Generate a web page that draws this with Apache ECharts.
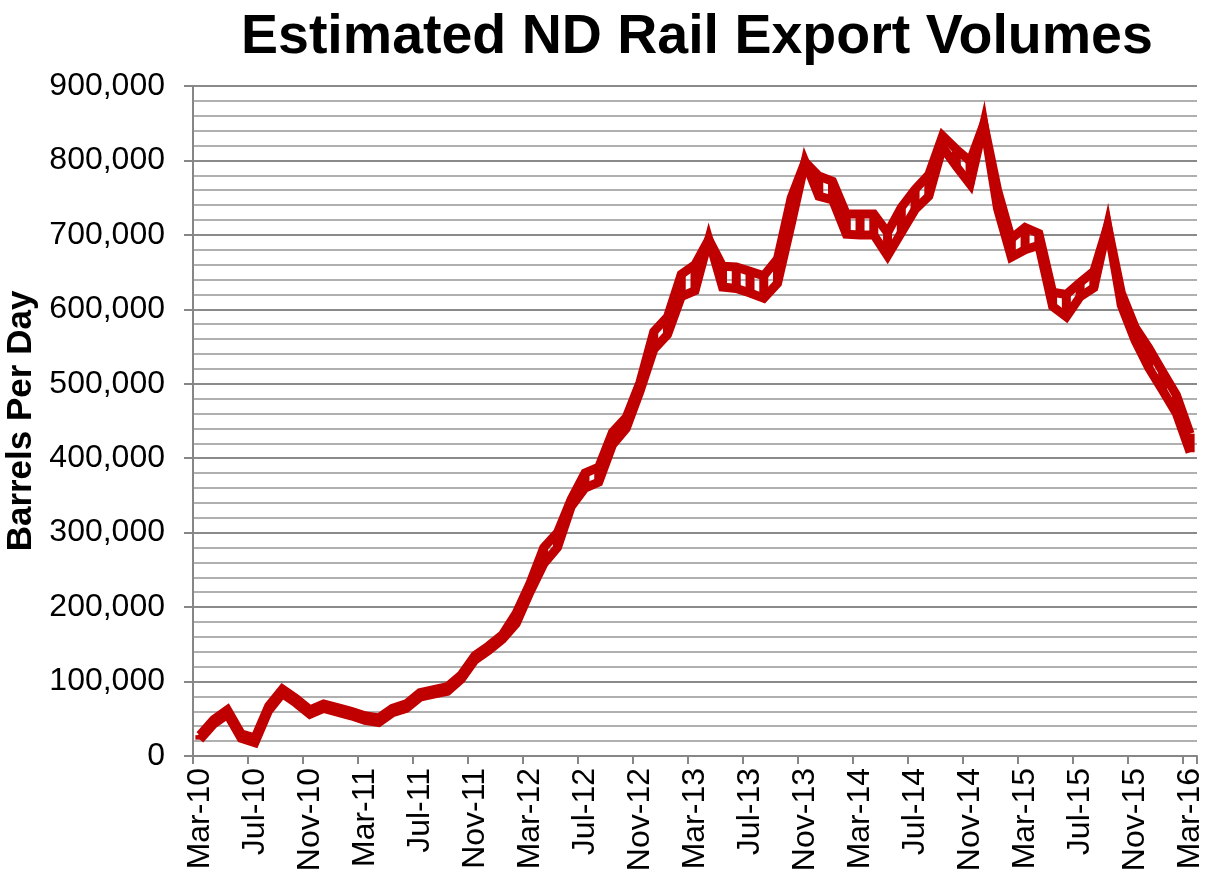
<!DOCTYPE html>
<html>
<head>
<meta charset="utf-8">
<title>Estimated ND Rail Export Volumes</title>
<script src="https://cdn.jsdelivr.net/npm/echarts@6/dist/echarts.min.js"></script>
<style>
  html, body { margin: 0; padding: 0; background: #fff; }
  #main { width: 1209px; height: 884px; }
</style>
</head>
<body>
<div id="main"></div>
<script>
// months on the category axis
var months = [
  'Mar-10', 'Apr-10', 'May-10', 'Jun-10', 'Jul-10', 'Aug-10', 'Sep-10', 'Oct-10', 'Nov-10', 'Dec-10',
  'Jan-11', 'Feb-11', 'Mar-11', 'Apr-11', 'May-11', 'Jun-11', 'Jul-11', 'Aug-11', 'Sep-11', 'Oct-11', 'Nov-11', 'Dec-11',
  'Jan-12', 'Feb-12', 'Mar-12', 'Apr-12', 'May-12', 'Jun-12', 'Jul-12', 'Aug-12', 'Sep-12', 'Oct-12', 'Nov-12', 'Dec-12',
  'Jan-13', 'Feb-13', 'Mar-13', 'Apr-13', 'May-13', 'Jun-13', 'Jul-13', 'Aug-13', 'Sep-13', 'Oct-13', 'Nov-13', 'Dec-13',
  'Jan-14', 'Feb-14', 'Mar-14', 'Apr-14', 'May-14', 'Jun-14', 'Jul-14', 'Aug-14', 'Sep-14', 'Oct-14', 'Nov-14', 'Dec-14',
  'Jan-15', 'Feb-15', 'Mar-15', 'Apr-15', 'May-15', 'Jun-15', 'Jul-15', 'Aug-15', 'Sep-15', 'Oct-15', 'Nov-15', 'Dec-15',
  'Jan-16', 'Feb-16', 'Mar-16'
]

// upper and lower estimate, barrels per day
var upper = [
  28000, 49000, 62000, 30000, 24000, 67000, 90000, 77000, 62000, 70000,
  65000, 60000, 54000, 51000, 64000, 70000, 85000, 89000, 93000, 109000, 135000, 148000,
  163000, 192000, 232000, 280000, 300000, 345000, 380000, 388000, 435000, 455000, 502000, 570000,
  590000, 647000, 660000, 694000, 658000, 657000, 651000, 645000, 668000, 750000, 798000, 779000,
  772000, 728000, 728000, 728000, 703000, 737000, 761000, 781000, 833000, 815000, 799000, 849000,
  760000, 695000, 710000, 702000, 623000, 620000, 636000, 651000, 712000, 622000, 576000, 548000,
  516000, 485000, 433000
]
var lower = [
  22000, 43000, 56000, 24000, 18000, 61000, 84000, 71000, 56000, 64000,
  59000, 54000, 48000, 45000, 58000, 64000, 79000, 83000, 87000, 103000, 129000, 142000,
  157000, 178000, 220000, 258000, 280000, 335000, 360000, 368000, 418000, 440000, 490000, 546000,
  566000, 617000, 625000, 694000, 630000, 628000, 622000, 615000, 635000, 715000, 798000, 752000,
  747000, 701000, 700000, 700000, 672000, 703000, 734000, 752000, 818000, 792000, 768000, 849000,
  735000, 670000, 680000, 686000, 604000, 590000, 617000, 629000, 712000, 605000, 558000, 521000,
  491000, 460000, 408000
]

var RED = '#C00000'
var FONT = '"Liberation Sans", Arial, sans-serif'

var chart = echarts.init(document.getElementById('main'))
chart.setOption(getOptions())

function getOptions () {
  // high-low connectors between the two lines
  var links = months.map(function (m, i) {
    return [i, upper[i], lower[i]]
  })
  var lineStyle = { color: RED, width: 9, join: 'miter', cap: 'butt' }

  return {
    animation: false,
    backgroundColor: '#fff',
    title: {
      text: 'Estimated ND Rail Export Volumes',
      left: 236,
      top: 5,
      textStyle: { fontFamily: FONT, fontSize: 55.5, fontWeight: 'bold', color: '#000' }
    },
    grid: {
      left: 193,
      right: 12,
      top: 86,
      bottom: 128,
      outerBoundsMode: 'none'
    },
    xAxis: {
      type: 'category',
      data: months,
      boundaryGap: true,
      axisLine: { lineStyle: { color: '#868686', width: 2 } },
      axisTick: {
        show: true,
        interval: 3,
        alignWithLabel: false,
        length: 8,
        lineStyle: { color: '#868686', width: 2 }
      },
      axisLabel: {
        interval: 3,
        rotate: 90,
        margin: 12,
        fontFamily: FONT,
        fontSize: 32,
        color: '#000'
      },
      splitLine: { show: false }
    },
    yAxis: {
      type: 'value',
      min: 0,
      max: 900000,
      interval: 100000,
      name: 'Barrels Per Day',
      nameLocation: 'middle',
      nameGap: 147,
      nameTextStyle: { fontFamily: FONT, fontSize: 35, fontWeight: 'bold', color: '#000' },
      axisLine: { show: true, lineStyle: { color: '#868686', width: 2 } },
      axisTick: { show: true, length: 9, lineStyle: { color: '#868686', width: 2 } },
      axisLabel: {
        margin: 28,
        fontFamily: FONT,
        fontSize: 32,
        color: '#000',
        formatter: function (v) {
          return v.toLocaleString('en-US')
        }
      },
      splitLine: { show: true, lineStyle: { color: '#8a8a8a', width: 2 } },
      minorTick: { show: false, splitNumber: 5 },
      minorSplitLine: { show: true, lineStyle: { color: '#b0b0b0', width: 2 } }
    },
    series: [{
      name: 'Lower',
      type: 'line',
      data: lower,
      symbol: 'none',
      lineStyle: lineStyle,
      z: 3
    }, {
      name: 'Upper',
      type: 'line',
      data: upper,
      symbol: 'none',
      lineStyle: lineStyle,
      z: 3
    }, {
      name: 'High-Low',
      type: 'custom',
      data: links,
      encode: { x: 0, y: [1, 2] },
      z: 3,
      renderItem: function (params, api) {
        var top = api.coord([api.value(0), api.value(1)])
        var bot = api.coord([api.value(0), api.value(2)])
        return {
          type: 'line',
          shape: { x1: top[0], y1: top[1], x2: bot[0], y2: bot[1] },
          style: { stroke: RED, lineWidth: 9 }
        }
      }
    }]
  }
}
</script>
</body>
</html>
